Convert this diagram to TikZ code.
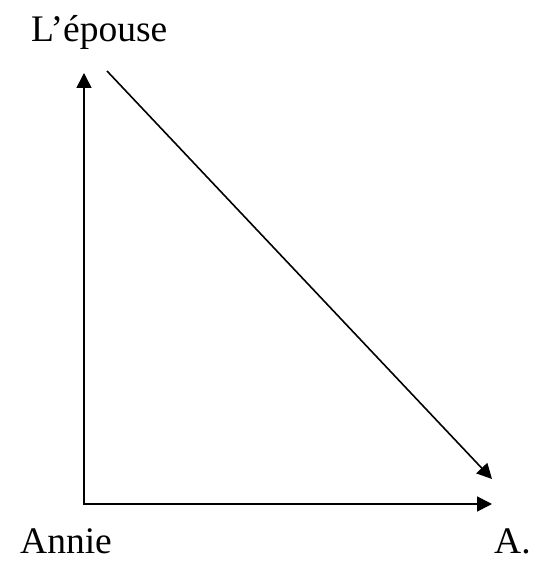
\documentclass[tikz,border=0pt]{standalone}
\usepackage{fontspec}
\setmainfont{Liberation Serif}
\usepackage{tikz}
\usetikzlibrary{arrows.meta}

\begin{document}
\begin{tikzpicture}[
        x=1pt, y=1pt,
        word/.style = {anchor=base west, inner sep=0pt, text depth=0pt, font=\fontsize{37.5}{42}\selectfont},
        edge/.style = {line width=1.6pt, line join=miter}
    ]
    \useasboundingbox (0,0) rectangle (536,561);
    \node[word] (epouse) at (31,519) {L’épouse};
    \node[word] (annie) at (20,7) {Annie};
    \node[word] (a) at (494,7) {A.};

    \coordinate (corner) at (84,57);
    \coordinate (top) at (84,488);
    \coordinate (right) at (492,57);
    \coordinate (from) at (107,490);
    \coordinate (to) at (492,82);

    \draw[edge, {Triangle[length=15pt, width=15pt]}-{Triangle[length=15pt, width=15pt]}] (top) -- (corner) -- (right);
    \draw[edge, -{Triangle[length=15pt, width=15pt]}] (from) -- (to);
\end{tikzpicture}
\end{document}
